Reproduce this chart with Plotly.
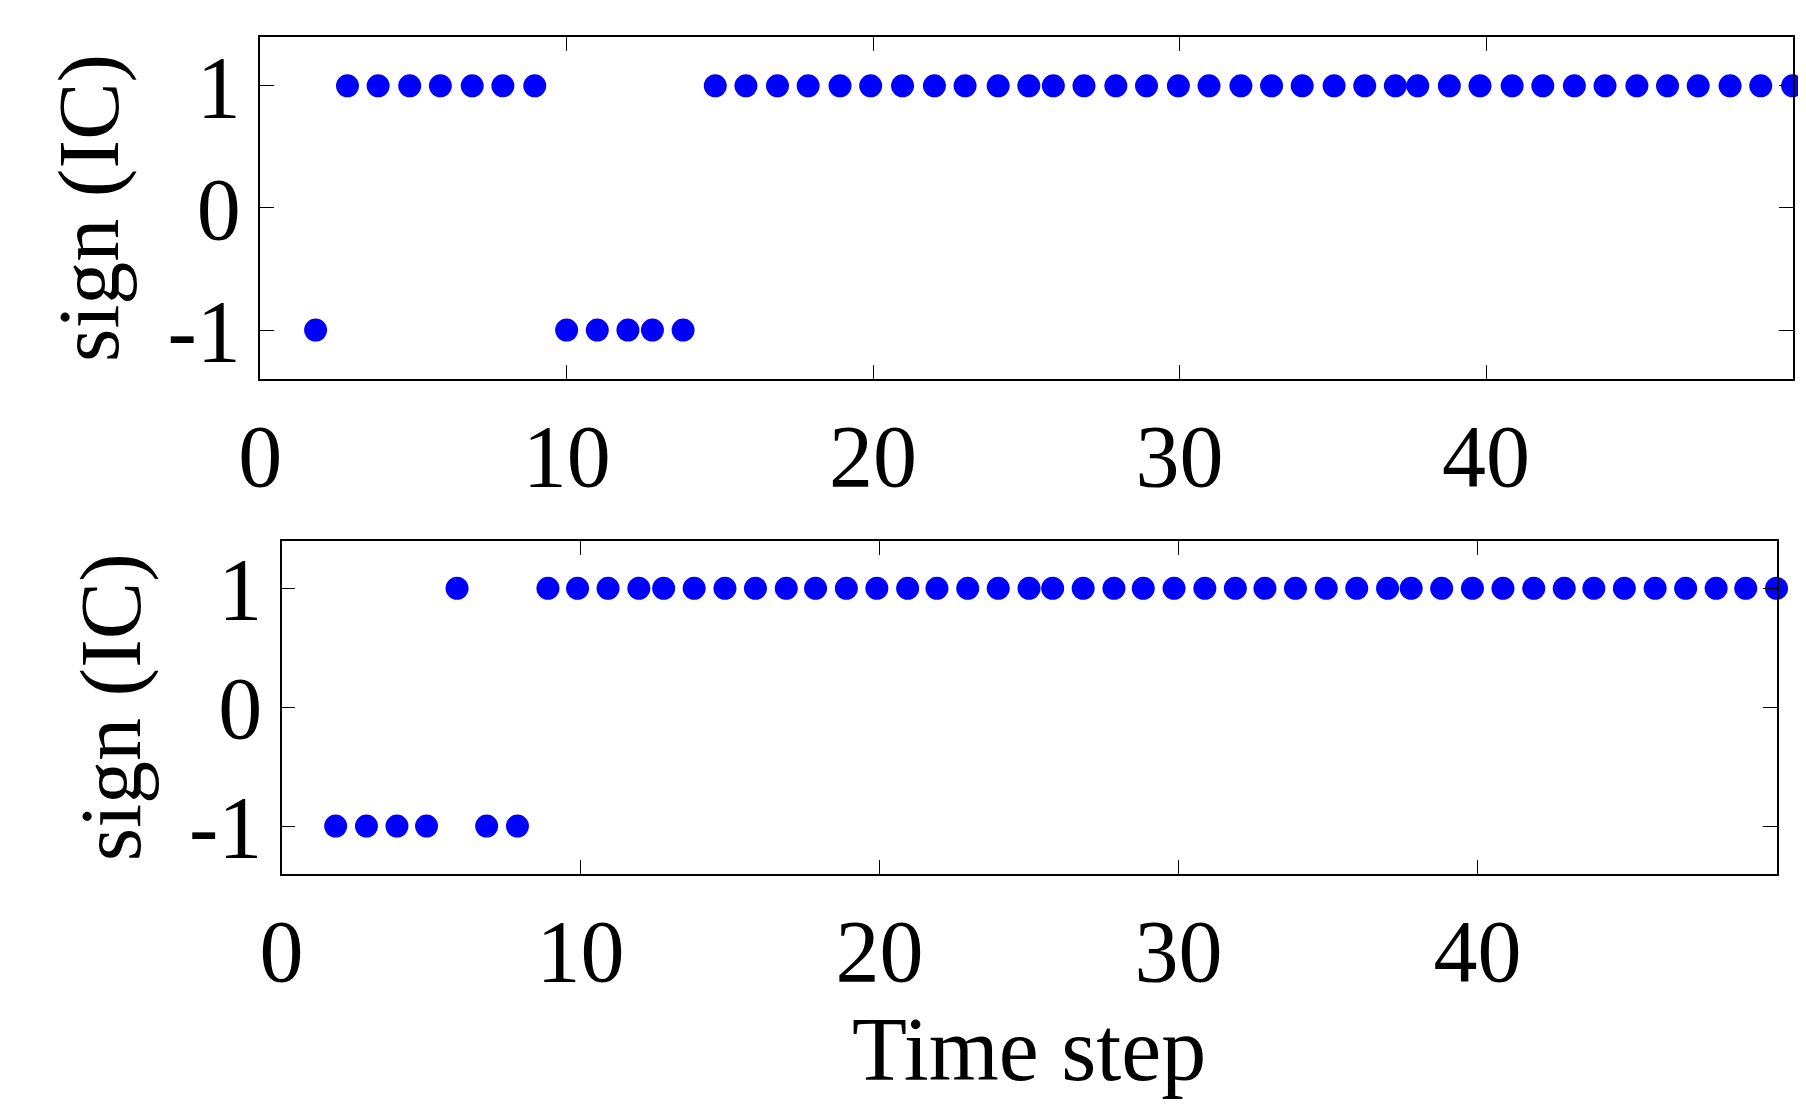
import plotly.graph_objects as go

x_top = [1.81,2.85,3.85,4.88,5.88,6.92,7.92,8.96,10,11,12,12.8,13.8,14.85,15.85,16.88,17.88,18.92,19.92,20.96,22,23,24.08,25.08,25.88,26.88,27.92,28.92,29.96,30.96,32,33,34,35.04,36.04,37.04,37.77,38.8,39.8,40.85,41.85,42.88,43.88,44.92,45.92,46.92,47.96,48.96,50]
y_top = [-1,1,1,1,1,1,1,1,-1,-1,-1,-1,-1] + [1]*36
x_bot = [1.81,2.84,3.86,4.85,5.87,6.86,7.89,8.91,9.9,10.92,11.95,12.78,13.8,14.83,15.85,16.88,17.86,18.89,19.91,20.94,21.92,22.95,23.97,25,25.79,26.81,27.84,28.82,29.85,30.88,31.9,32.89,33.91,34.94,35.96,36.99,37.78,38.8,39.83,40.85,41.88,42.9,43.89,44.91,45.94,46.96,47.98,48.97,50]
y_bot = [-1,-1,-1,-1,1,-1,-1] + [1]*42
y_ticks = [-1, 0, 1]
y_labels = ["-1", "0", "1"]

fig = go.Figure()
mk = dict(color="#0000ff", size=23)
fig.add_trace(go.Scatter(x=x_top, y=y_top, mode="markers", marker=mk, xaxis="x", yaxis="y", cliponaxis=False))
fig.add_trace(go.Scatter(x=x_bot, y=y_bot, mode="markers", marker=mk, xaxis="x2", yaxis="y2", cliponaxis=False))

font = dict(family="Liberation Serif", size=88, color="black")
tfont = dict(family="Liberation Serif", size=86, color="black")
ax = dict(range=[0, 50], tickvals=[0,10,20,30,40,50], showline=True, mirror="ticks", linecolor="black",
          linewidth=1.5, ticks="inside", ticklen=14, tickcolor="black", showgrid=False, zeroline=False, tickfont=font)
ay = dict(range=[-1.4, 1.4], tickvals=y_ticks, ticktext=y_labels, showline=True, mirror="ticks", linecolor="black",
          linewidth=1.5, ticks="inside", ticklen=14, tickcolor="black", showgrid=False, zeroline=False, tickfont=font,
          title=dict(text="sign (IC)", font=tfont, standoff=20))
fig.update_layout(
    width=1806, height=1119, showlegend=False, plot_bgcolor="white", paper_bgcolor="white",
    margin=dict(l=0, r=0, t=0, b=0),
    xaxis=dict(ax, domain=[0.129, 0.988], anchor="y"),
    yaxis=dict(ay, domain=[0.668, 0.974], anchor="x"),
    xaxis2=dict(ax, domain=[0.141, 0.979], anchor="y2",
                title=dict(text="Time step", font=dict(family="Liberation Serif", size=90, color="black"), standoff=10)),
    yaxis2=dict(ay, domain=[0.225, 0.523], anchor="x2"),
)
fig.write_html("out.html")
